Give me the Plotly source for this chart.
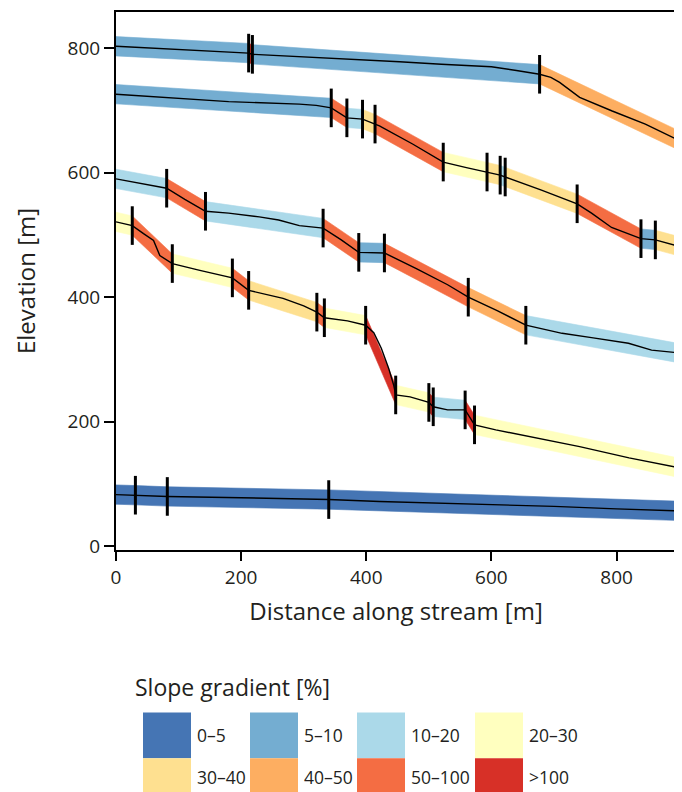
import plotly.graph_objects as go

# ---------------- data ----------------
CLASS_LABELS = ['0–5', '5–10', '10–20', '20–30', '30–40', '40–50', '50–100', '>100']
CLASS_COLORS = ['#4575b4', '#74add1', '#abd9e9', '#ffffbf', '#fee090', '#fdae61', '#f46d43', '#d73027']

X_TICKS = [0, 200, 400, 600, 800]
Y_TICKS = [0, 200, 400, 600, 800]

# Stream 1 (top)
S1_BREAK_X = [0, 212, 218, 677, 895]
S1_BREAK_E = [803, 792, 790, 758, 654]
S1_CLASS = [1, 7, 1, 5]
S1_PROF_X = [0, 60, 120, 180, 212, 218, 260, 330, 400, 453, 520, 560, 600, 640, 677, 695, 709, 741, 793, 846, 895]
S1_PROF_E = [803, 800, 797, 794, 792, 790, 788, 785, 781, 778, 774, 772, 770, 764, 758, 753, 745, 721, 699, 678, 654]

# Stream 2
S2_BREAK_X = [0, 344, 369, 394, 414, 523, 593, 614, 622, 737, 839, 862, 895]
S2_BREAK_E = [726, 704, 688, 686, 678, 617, 601, 596, 593, 550, 494, 492, 483]
S2_CLASS = [1, 6, 2, 4, 6, 3, 4, 2, 4, 6, 1, 4]
S2_PROF_X = [0, 60, 144, 180, 293, 320, 344, 369, 394, 414, 421, 474, 500, 523, 560, 593, 614, 622, 680, 737, 760, 792, 839, 862, 895]
S2_PROF_E = [726, 722, 716, 714, 710, 708, 704, 688, 686, 678, 675, 646, 630, 617, 608, 601, 596, 593, 572, 550, 535, 512, 494, 492, 483]

# Stream 3
S3_BREAK_X = [0, 81, 143, 331, 388, 429, 563, 655, 895]
S3_BREAK_E = [590, 575, 538, 511, 472, 471, 400, 355, 311]
S3_CLASS = [2, 6, 2, 6, 1, 6, 5, 2]
S3_PROF_X = [0, 40, 81, 110, 143, 180, 229, 260, 293, 331, 360, 388, 410, 429, 480, 530, 563, 610, 655, 713, 760, 819, 856, 895]
S3_PROF_E = [590, 582, 575, 557, 538, 535, 529, 524, 515, 511, 492, 472, 471, 471, 446, 420, 400, 378, 355, 342, 335, 326, 315, 311]

# Stream 4
S4_BREAK_X = [0, 26, 90, 186, 212, 321, 333, 399, 447, 500, 507, 558, 573, 895]
S4_BREAK_E = [521, 515, 454, 431, 411, 376, 367, 355, 243, 231, 224, 219, 195, 127]
S4_CLASS = [3, 6, 3, 6, 4, 6, 3, 7, 3, 7, 2, 7, 3]
S4_PROF_X = [0, 26, 44, 60, 70, 90, 134, 186, 212, 267, 300, 321, 333, 370, 399, 412, 424, 436, 444, 447, 470, 500, 507, 530, 558, 573, 607, 741, 820, 895]
S4_PROF_E = [521, 515, 502, 491, 467, 454, 443, 431, 411, 398, 386, 376, 367, 362, 355, 343, 318, 285, 258, 243, 240, 231, 224, 219, 219, 195, 187, 160, 142, 127]

# Stream 5 (bottom)
S5_BREAK_X = [0, 31, 82, 340, 895]
S5_BREAK_E = [83, 82, 80, 75, 57]
S5_CLASS = [0, 0, 0, 0]
S5_PROF_X = [0, 31, 82, 200, 340, 421, 500, 700, 800, 895]
S5_PROF_E = [83, 82, 80, 78, 75, 72, 70, 64, 60, 57]

STREAMS = [
    (S1_BREAK_X, S1_BREAK_E, S1_CLASS, S1_PROF_X, S1_PROF_E),
    (S2_BREAK_X, S2_BREAK_E, S2_CLASS, S2_PROF_X, S2_PROF_E),
    (S3_BREAK_X, S3_BREAK_E, S3_CLASS, S3_PROF_X, S3_PROF_E),
    (S4_BREAK_X, S4_BREAK_E, S4_CLASS, S4_PROF_X, S4_PROF_E),
    (S5_BREAK_X, S5_BREAK_E, S5_CLASS, S5_PROF_X, S5_PROF_E),
]

# ---------------- style ----------------
FONT = 'Open Sans'
TXT = '#231f20'
BAND_HALF = 15.5
BAR_HALF = 31
OFF = 8  # page body offset
W, H = 682, 792
ML, MR, MT, MB = 108, 14, 2, 250
PW, PH = W - ML - MR, H - MT - MB

fig = go.Figure()

for bx, be, cls, px_, pe in STREAMS:
    for i, c in enumerate(cls):
        x0, x1 = bx[i], bx[i + 1]
        e0, e1 = be[i], be[i + 1]
        fig.add_trace(go.Scatter(
            x=[x0, x1, x1, x0, x0],
            y=[e0 + BAND_HALF, e1 + BAND_HALF, e1 - BAND_HALF, e0 - BAND_HALF, e0 + BAND_HALF],
            fill='toself', fillcolor=CLASS_COLORS[c], mode='lines',
            line=dict(width=0.6, color=CLASS_COLORS[c]), hoverinfo='skip', showlegend=False))
    fig.add_trace(go.Scatter(x=px_, y=pe, mode='lines', line=dict(color='black', width=1.4),
                             hoverinfo='skip', showlegend=False))
    xs, ys = [], []
    for j in range(1, len(bx) - 1):
        xs += [bx[j], bx[j], None]
        ys += [be[j] - BAR_HALF, be[j] + BAR_HALF, None]
    fig.add_trace(go.Scatter(x=xs, y=ys, mode='lines', line=dict(color='black', width=3),
                             hoverinfo='skip', showlegend=False))


def pxx(p):
    return (p - OFF - ML) / PW


def pxy(p):
    return (H - MB - (p - OFF)) / PH


shapes = []
annots = []
annots.append(dict(x=pxx(133), y=pxy(688), xref='paper', yref='paper', text='Slope gradient [%]',
                   showarrow=False, xanchor='left', yanchor='middle',
                   font=dict(family=FONT, size=23, color=TXT)))
SW_X = [143, 250, 357, 475]
SW_Y = [713, 759]
TXT_Y = [736, 778]
for k, (lab, col) in enumerate(zip(CLASS_LABELS, CLASS_COLORS)):
    r, cidx = divmod(k, 4)
    x0 = SW_X[cidx]
    y0 = SW_Y[r]
    shapes.append(dict(type='rect', xref='paper', yref='paper', x0=pxx(x0), x1=pxx(x0 + 48),
                       y0=pxy(y0), y1=pxy(y0 + 46), fillcolor=col, line=dict(width=0), layer='above'))
    annots.append(dict(x=pxx(x0 + 52), y=pxy(TXT_Y[r]), xref='paper', yref='paper', text=lab,
                       showarrow=False, xanchor='left', yanchor='middle',
                       font=dict(family=FONT, size=17.5, color=TXT)))

fig.update_layout(
    width=W, height=H, margin=dict(l=ML, r=MR, t=MT, b=MB),
    plot_bgcolor='white', paper_bgcolor='white',
    font=dict(family=FONT, color=TXT),
    shapes=shapes, annotations=annots, showlegend=False,
    xaxis=dict(range=[0, 895], tickvals=X_TICKS, showline=True, linecolor='black', linewidth=2,
               mirror=True, ticks='outside', ticklen=9, tickwidth=2, tickcolor='black',
               showgrid=False, zeroline=False, tickfont=dict(size=19),
               title=dict(text='Distance along stream [m]', font=dict(size=24), standoff=14)),
    yaxis=dict(range=[-6, 858], tickvals=Y_TICKS, showline=True, linecolor='black', linewidth=2,
               mirror=True, ticks='outside', ticklen=10, tickwidth=2, tickcolor='black',
               showgrid=False, zeroline=False, tickfont=dict(size=19),
               title=dict(text='Elevation [m]', font=dict(size=24), standoff=25)),
)

fig.write_html('out.html')
